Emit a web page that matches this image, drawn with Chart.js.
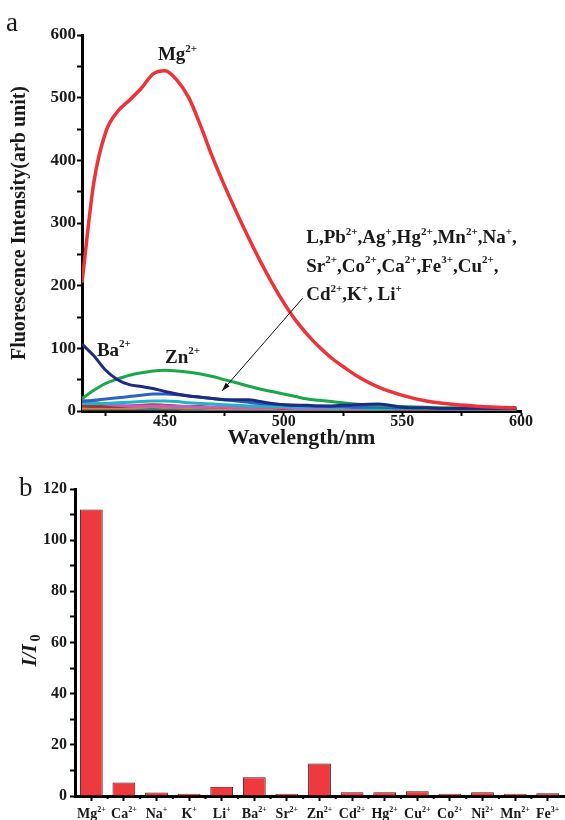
<!DOCTYPE html>
<html>
<head>
<meta charset="utf-8">
<script src="https://cdn.jsdelivr.net/npm/chart.js@4"></script>
<style>
  body { margin: 0; background: #fff; }
  #wrap { position: relative; width: 565px; height: 820px; }
  canvas { position: absolute; left: 0; }
  #espectros { top: 0; }
  #barras { top: 460px; }
</style>
</head>
<body>
<div id="wrap">
  <canvas id="espectros" width="565" height="465"></canvas>
  <canvas id="barras" width="565" height="360"></canvas>
</div>
<script>
// --- datos (a): espectros de emision ---
const wavelengths = [415, 420, 425, 430, 435, 440, 445, 450, 455, 460, 465, 470, 475, 480, 485, 490, 495, 500, 505, 510, 515, 520, 525, 530, 540, 550, 560, 570, 580, 590, 598];
const mgValues = [205, 365, 445, 478, 496, 515, 538, 543, 528, 500, 455, 405, 360, 318, 278, 240, 205, 173, 145, 122, 102, 85, 71, 58, 38, 25, 16, 11, 8, 6, 5];
const znValues = [20, 33, 44, 51, 57, 61, 64, 65, 64, 62, 59, 55, 50, 45, 40, 35, 31, 27, 23, 19, 17, 15, 13, 11, 9, 7, 6, 5, 5, 4, 4];
const baValues = [107, 88, 65, 50, 42, 39, 36, 31, 27, 24, 22, 20, 18, 18, 18, 15, 12, 10, 9, 9, 8, 8, 9, 10, 11, 6, 5, 4, 4, 4, 4];
const otherA = [15, 17, 19, 21, 23, 25, 27, 27, 26, 24, 22, 20, 18, 16, 14, 12, 11, 10, 9, 8, 8, 7, 7, 6, 6, 5, 5, 4, 4, 4, 4];
const otherB = [12, 12, 12, 13, 14, 15, 16, 16, 15, 13, 12, 11, 10, 9, 8, 8, 7, 7, 6, 6, 6, 5, 5, 5, 4, 4, 4, 3, 3, 3, 3];
const otherC = [17, 14, 11, 9, 8, 8, 8, 8, 7, 7, 6, 6, 6, 5, 5, 5, 5, 5, 4, 4, 4, 4, 4, 4, 4, 4, 4, 4, 4, 4, 4];
const otherD = [8, 7, 7, 7, 8, 9, 10, 9, 8, 7, 7, 6, 6, 5, 5, 5, 5, 4, 4, 4, 4, 4, 4, 4, 4, 3, 3, 3, 3, 3, 3];
const otherE = [5, 5, 5, 5, 5, 6, 7, 6, 6, 5, 5, 4, 4, 4, 4, 4, 4, 3, 3, 3, 3, 3, 3, 3, 3, 3, 3, 3, 3, 3, 3];
const otherF = [3, 3, 3, 3, 3, 3, 3, 3, 3, 2, 2, 2, 2, 2, 2, 2, 2, 2, 2, 2, 2, 2, 2, 2, 2, 2, 2, 2, 2, 2, 2];
const xTicks = [450, 500, 550, 600];
const yTicks = [0, 100, 200, 300, 400, 500, 600];

// --- datos (b): I/I0 por ion ---
const ionNames = ["Mg", "Ca", "Na", "K", "Li", "Ba", "Sr", "Zn", "Cd", "Hg", "Cu", "Co", "Ni", "Mn", "Fe"];
const ionCharges = ["2+", "2+", "+", "+", "+", "2+", "2+", "2+", "2+", "2+", "2+", "2+", "2+", "2+", "3+"];
const ratioValues = [112, 5.3, 1.4, 0.9, 3.6, 7.3, 0.9, 12.7, 1.5, 1.5, 1.9, 0.9, 1.5, 0.9, 1.1];
const ratioTicks = [0, 20, 40, 60, 80, 100, 120];

const SERIF = '"Liberation Serif", "Times New Roman", serif';
const INK = "#1a1a1a";

// texto con superindices: parts = [[base, sup], ...]
function dibujarTexto(ctx, parts, x, y, size, align) {
    const fBase = `bold ${size}px ${SERIF}`;
    const fSup = `bold ${Math.round(size * 0.58)}px ${SERIF}`;
    let w = 0;
    parts.forEach(([b, s]) => {
        ctx.font = fBase; w += ctx.measureText(b).width;
        ctx.font = fSup; w += ctx.measureText(s || "").width;
    });
    let cx = align === "center" ? x - w / 2 : x;
    ctx.textAlign = "left";
    ctx.textBaseline = "alphabetic";
    parts.forEach(([b, s]) => {
        ctx.font = fBase;
        ctx.fillText(b, cx, y);
        cx += ctx.measureText(b).width;
        if (s) {
            ctx.font = fSup;
            ctx.fillText(s, cx, y - size * 0.45);
            cx += ctx.measureText(s).width;
        }
    });
}

function serie(label, values, color, width) {
    return {
        label,
        data: wavelengths.map((w, i) => ({ x: w, y: values[i] })),
        borderColor: color,
        borderWidth: width,
        pointRadius: 0,
        cubicInterpolationMode: "monotone",
        fill: false,
    };
}

// etiquetas de la grafica (a), en unidades de datos
const etiquetasA = [
    { parts: [["Mg", "2+"]], x: 447, y: 560 },
    { parts: [["Ba", "2+"]], x: 421.3, y: 88 },
    { parts: [["Zn", "2+"]], x: 450, y: 77 },
    { parts: [["L,Pb", "2+"], [",Ag", "+"], [",Hg", "2+"], [",Mn", "2+"], [",Na", "+"], [",", ""]], x: 509.5, y: 268 },
    { parts: [["Sr", "2+"], [",Co", "2+"], [",Ca", "2+"], [",Fe", "3+"], [",Cu", "2+"], [",", ""]], x: 509.5, y: 222 },
    { parts: [["Cd", "2+"], [",K", "+"], [", Li", "+"]], x: 509.5, y: 177 },
];
const flecha = { x1: 508, y1: 180, x2: 474, y2: 32 };

const anotacionesA = {
    id: "anotacionesA",
    afterDraw(chart) {
        const { ctx, scales: { x, y } } = chart;
        ctx.save();
        ctx.fillStyle = INK;
        etiquetasA.forEach((e) => {
            dibujarTexto(ctx, e.parts, x.getPixelForValue(e.x), y.getPixelForValue(e.y), 19, "left");
        });
        // flecha
        const x1 = x.getPixelForValue(flecha.x1), y1 = y.getPixelForValue(flecha.y1);
        const x2 = x.getPixelForValue(flecha.x2), y2 = y.getPixelForValue(flecha.y2);
        ctx.strokeStyle = "#111";
        ctx.lineWidth = 1;
        ctx.beginPath();
        ctx.moveTo(x1, y1);
        ctx.lineTo(x2, y2);
        ctx.stroke();
        const ang = Math.atan2(y2 - y1, x2 - x1);
        ctx.beginPath();
        ctx.moveTo(x2, y2);
        ctx.lineTo(x2 - 9 * Math.cos(ang - 0.3), y2 - 9 * Math.sin(ang - 0.3));
        ctx.lineTo(x2 - 9 * Math.cos(ang + 0.3), y2 - 9 * Math.sin(ang + 0.3));
        ctx.closePath();
        ctx.fillStyle = "#111";
        ctx.fill();
        // letra del panel
        ctx.font = `27px ${SERIF}`;
        ctx.fillStyle = INK;
        ctx.fillText("a", 6, 31);
        ctx.restore();
    },
};

new Chart(document.getElementById("espectros"), {
    type: "line",
    data: {
        datasets: [
            serie("Mg2+", mgValues, "#ee3338", 3.5),
            serie("Ba2+", baValues, "#1f2b82", 3),
            serie("Zn2+", znValues, "#18a84a", 3),
            serie("otros 1", otherA, "#2d62c2", 3),
            serie("otros 2", otherB, "#1cb6c9", 3),
            serie("otros 3", otherC, "#c35fc0", 3),
            serie("otros 4", otherD, "#a83434", 3),
            serie("otros 5", otherE, "#f27a2c", 3),
            serie("otros 6", otherF, "#3a7f86", 3),
        ],
    },
    options: {
        responsive: false,
        animation: false,
        layout: { padding: { top: 35, right: 44, left: 0, bottom: 0 } },
        plugins: { legend: { display: false }, tooltip: { enabled: false } },
        scales: {
            x: {
                type: "linear",
                min: 415,
                max: 600,
                afterFit: (s) => { s.height = 54; },
                border: { display: true, color: "#000", width: 3 },
                grid: { drawOnChartArea: false, tickLength: 5, tickWidth: 2, tickColor: "#000" },
                ticks: {
                    stepSize: 25,
                    includeBounds: false,
                    maxRotation: 0,
                    padding: -2,
                    color: INK,
                    font: { family: SERIF, size: 16, weight: "bold", lineHeight: 1 },
                    callback: (v) => (xTicks.includes(v) ? String(v) : ""),
                },
                title: {
                    display: true,
                    text: "Wavelength/nm",
                    color: INK,
                    font: { family: SERIF, size: 22, weight: "bold" },
                    padding: { top: 0, bottom: 13 },
                },
            },
            y: {
                min: 0,
                max: 600,
                afterFit: (s) => { s.width = 82; },
                border: { display: true, color: "#000", width: 3 },
                grid: { drawOnChartArea: false, tickLength: 5, tickWidth: 2, tickColor: "#000" },
                ticks: {
                    stepSize: 50,
                    padding: 1,
                    color: INK,
                    font: { family: SERIF, size: 17, weight: "bold" },
                    callback: (v) => (yTicks.includes(v) ? String(v) : ""),
                },
                title: {
                    display: true,
                    text: "Fluorescence Intensity(arb unit)",
                    color: INK,
                    font: { family: SERIF, size: 20, weight: "bold" },
                    padding: { top: 8, bottom: 0 },
                },
            },
        },
    },
    plugins: [anotacionesA],
});

// --- grafica (b) ---
const anotacionesB = {
    id: "anotacionesB",
    afterDraw(chart) {
        const { ctx, scales: { x, y } } = chart;
        ctx.save();
        ctx.fillStyle = INK;
        const base = y.bottom;
        // etiquetas con superindice
        ionNames.forEach((n, i) => {
            dibujarTexto(ctx, [[n, ionCharges[i]]], x.getPixelForTick(i), base + 22, 14, "center");
        });
        // ticks menores entre categorias
        ctx.strokeStyle = "#000";
        ctx.lineWidth = 2;
        for (let i = 0; i < ionNames.length - 1; i++) {
            const px = (x.getPixelForTick(i) + x.getPixelForTick(i + 1)) / 2;
            ctx.beginPath();
            ctx.moveTo(px, base);
            ctx.lineTo(px, base + 3);
            ctx.stroke();
        }
        // titulo eje y: I/I0
        ctx.translate(31, (y.top + y.bottom) / 2 + 8);
        ctx.rotate(-Math.PI / 2);
        ctx.textBaseline = "alphabetic";
        ctx.font = `italic bold 21px ${SERIF}`;
        const t = "I/I";
        const wT = ctx.measureText(t).width;
        ctx.font = `bold 14px ${SERIF}`;
        const w0 = ctx.measureText("0").width;
        let cx = -(wT + w0 + 3) / 2;
        ctx.font = `italic bold 21px ${SERIF}`;
        ctx.textAlign = "left";
        ctx.fillText(t, cx, 5);
        ctx.font = `bold 14px ${SERIF}`;
        ctx.fillText("0", cx + wT + 3, 9);
        ctx.restore();
        // letra del panel
        ctx.save();
        ctx.font = `27px ${SERIF}`;
        ctx.fillStyle = INK;
        ctx.fillText("b", 19, 36);
        ctx.restore();
    },
};

new Chart(document.getElementById("barras"), {
    type: "bar",
    data: {
        labels: ionNames.map((n, i) => n + ionCharges[i]),
        datasets: [
            {
                label: "I/I0",
                data: ratioValues,
                backgroundColor: "#ee393e",
                borderColor: "#4a1515",
                borderWidth: 1,
                barPercentage: 0.7,
                categoryPercentage: 1,
            },
        ],
    },
    options: {
        responsive: false,
        animation: false,
        layout: { padding: { top: 29, right: 1, left: 0, bottom: 0 } },
        plugins: { legend: { display: false }, tooltip: { enabled: false } },
        scales: {
            x: {
                afterFit: (s) => { s.height = 24; },
                border: { display: true, color: "#000", width: 3 },
                grid: { offset: false, drawOnChartArea: false, tickLength: 5, tickWidth: 2, tickColor: "#000" },
                ticks: { display: false },
            },
            y: {
                min: 0,
                max: 120,
                afterFit: (s) => { s.width = 75; },
                border: { display: true, color: "#000", width: 3 },
                grid: { drawOnChartArea: false, tickLength: 5, tickWidth: 2, tickColor: "#000" },
                ticks: {
                    stepSize: 10,
                    padding: 3,
                    color: INK,
                    font: { family: SERIF, size: 16, weight: "bold" },
                    callback: (v) => (ratioTicks.includes(v) ? String(v) : ""),
                },
            },
        },
    },
    plugins: [anotacionesB],
});
</script>
</body>
</html>
